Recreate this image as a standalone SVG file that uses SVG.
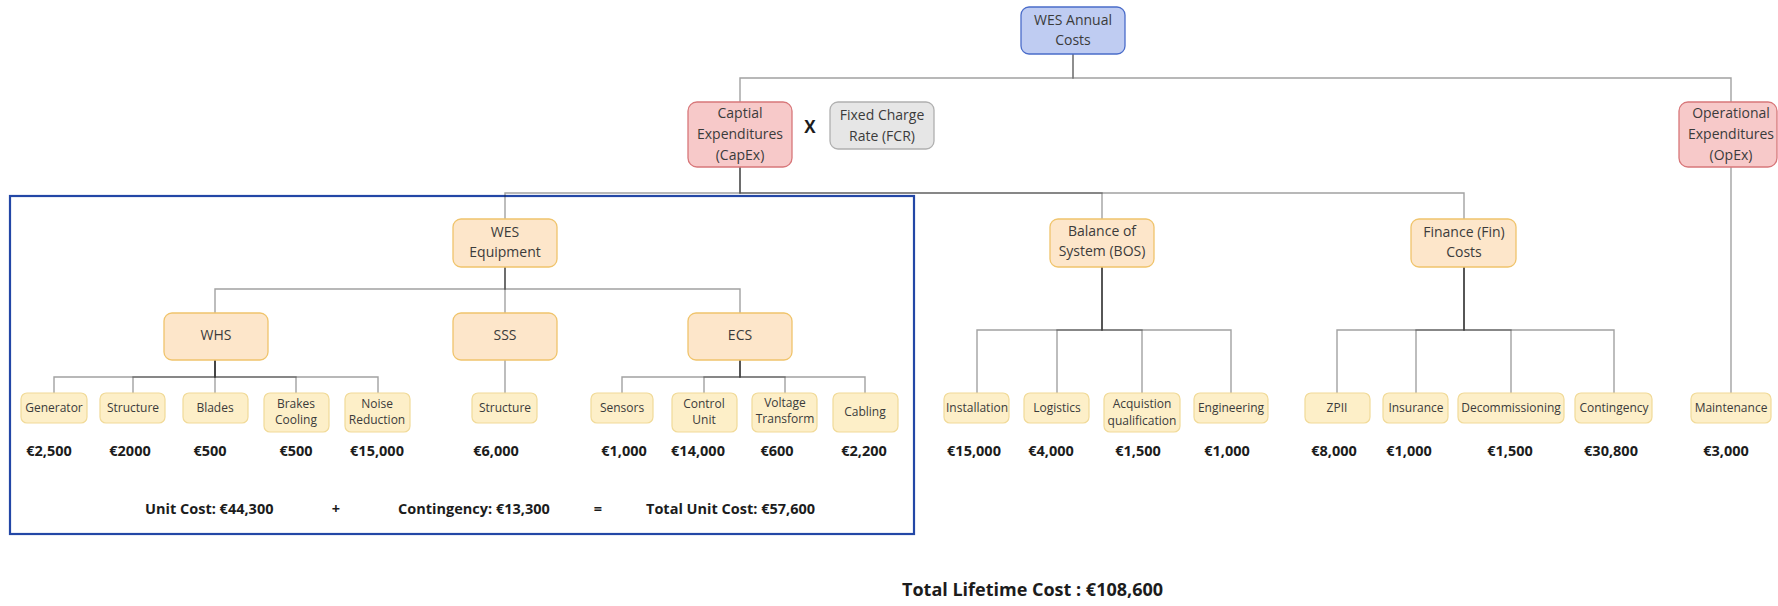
<svg xmlns="http://www.w3.org/2000/svg" width="1778" height="606" viewBox="0 0 1778 606">
  <style>
    text { font-family: "Open Sans", "Noto Sans", "Liberation Sans", sans-serif; }
    .lbl { font-size: 14px; fill: #3b3b3b; text-anchor: middle; }
    .leaf-lbl { font-size: 12px; fill: #3b3b3b; text-anchor: middle; }
    .val { font-size: 14.5px; font-weight: bold; fill: #1c1c1c; text-anchor: middle; }
    .sum { font-size: 14.5px; font-weight: bold; fill: #1c1c1c; }
    .edge { fill: none; stroke: #1f1f1f; stroke-opacity: 0.42; stroke-width: 1.4; }
    .root { fill: #bfccf2; stroke: #4a6cc9; stroke-width: 1.3; }
    .red { fill: #f7c9c9; stroke: #d8777a; stroke-width: 1.3; }
    .grey { fill: #e6e6e6; stroke: #b0b0b0; stroke-width: 1.3; }
    .peach { fill: #fde6ca; stroke: #f0c46c; stroke-width: 1.3; }
    .leaf { fill: #fdefc8; stroke: #f1da98; stroke-width: 1.2; }
  </style>

  <rect width="1778" height="606" fill="#ffffff"/>

  <!-- equipment scope frame -->
  <rect id="equipment-frame" x="10" y="196" width="904" height="338" fill="none" stroke="#2347a6" stroke-width="2.2"/>

  <!-- connectors: one elbow path per parent/child pair -->
  <g id="connectors">
    <path class="edge" d="M1073,54 V78 H740 V102"/>
    <path class="edge" d="M1073,54 V78 H1731 V102"/>

    <path class="edge" d="M740,167 V193 H505 V219"/>
    <path class="edge" d="M740,167 V193 H1102 V219"/>
    <path class="edge" d="M740,167 V193 H1464 V219"/>

    <path class="edge" d="M505,267 V289 H215 V313"/>
    <path class="edge" d="M505,267 V313"/>
    <path class="edge" d="M505,267 V289 H740 V313"/>

    <path class="edge" d="M215,360 V377 H54 V393"/>
    <path class="edge" d="M215,360 V377 H133 V393"/>
    <path class="edge" d="M215,360 V393"/>
    <path class="edge" d="M215,360 V377 H296 V393"/>
    <path class="edge" d="M215,360 V377 H378 V393"/>

    <path class="edge" d="M505,360 V393"/>

    <path class="edge" d="M740,360 V377 H622 V393"/>
    <path class="edge" d="M740,360 V377 H704 V393"/>
    <path class="edge" d="M740,360 V377 H785 V393"/>
    <path class="edge" d="M740,360 V377 H865 V393"/>

    <path class="edge" d="M1102,267 V330 H977 V393"/>
    <path class="edge" d="M1102,267 V330 H1057 V393"/>
    <path class="edge" d="M1102,267 V330 H1142 V393"/>
    <path class="edge" d="M1102,267 V330 H1231 V393"/>

    <path class="edge" d="M1464,267 V330 H1337 V393"/>
    <path class="edge" d="M1464,267 V330 H1416 V393"/>
    <path class="edge" d="M1464,267 V330 H1511 V393"/>
    <path class="edge" d="M1464,267 V330 H1614 V393"/>

    <path class="edge" d="M1731,167 V393"/>
  </g>

  <!-- top level -->
  <g id="wes-annual-costs">
    <rect class="root" x="1021" y="7" width="104" height="47" rx="8"/>
    <text class="lbl" x="1073" y="25">WES Annual</text>
    <text class="lbl" x="1073" y="45">Costs</text>
  </g>

  <g id="capex">
    <rect class="red" x="688" y="102" width="104" height="65" rx="9"/>
    <text class="lbl" x="740" y="118">Captial</text>
    <text class="lbl" x="740" y="139">Expenditures</text>
    <text class="lbl" x="740" y="160">(CapEx)</text>
  </g>

  <text id="times-sign" x="810" y="133" font-size="17" font-weight="bold" fill="#1c1c1c" text-anchor="middle">X</text>

  <g id="fcr">
    <rect class="grey" x="830" y="102" width="104" height="47" rx="8"/>
    <text class="lbl" x="882" y="120">Fixed Charge</text>
    <text class="lbl" x="882" y="141">Rate (FCR)</text>
  </g>

  <g id="opex">
    <rect class="red" x="1679" y="102" width="98" height="65" rx="9"/>
    <text class="lbl" x="1731" y="118">Operational</text>
    <text class="lbl" x="1731" y="139">Expenditures</text>
    <text class="lbl" x="1731" y="160">(OpEx)</text>
  </g>

  <!-- CapEx branches -->
  <g id="wes-equipment">
    <rect class="peach" x="453" y="219" width="104" height="48" rx="8"/>
    <text class="lbl" x="505" y="237">WES</text>
    <text class="lbl" x="505" y="257">Equipment</text>
  </g>

  <g id="bos">
    <rect class="peach" x="1050" y="219" width="104" height="48" rx="8"/>
    <text class="lbl" x="1102" y="236">Balance of</text>
    <text class="lbl" x="1102" y="256">System (BOS)</text>
  </g>

  <g id="finance">
    <rect class="peach" x="1411" y="219" width="105" height="48" rx="8"/>
    <text class="lbl" x="1464" y="237">Finance (Fin)</text>
    <text class="lbl" x="1464" y="257">Costs</text>
  </g>

  <!-- equipment subsystems -->
  <g id="whs">
    <rect class="peach" x="164" y="313" width="104" height="47" rx="8"/>
    <text class="lbl" x="216" y="340">WHS</text>
  </g>
  <g id="sss">
    <rect class="peach" x="453" y="313" width="104" height="47" rx="8"/>
    <text class="lbl" x="505" y="340">SSS</text>
  </g>
  <g id="ecs">
    <rect class="peach" x="688" y="313" width="104" height="47" rx="8"/>
    <text class="lbl" x="740" y="340">ECS</text>
  </g>

  <!-- WHS components -->
  <g id="generator">
    <rect class="leaf" x="21" y="393" width="66" height="30" rx="6"/>
    <text class="leaf-lbl" x="54" y="412">Generator</text>
  </g>
  <g id="whs-structure">
    <rect class="leaf" x="100" y="393" width="65" height="30" rx="6"/>
    <text class="leaf-lbl" x="133" y="412">Structure</text>
  </g>
  <g id="blades">
    <rect class="leaf" x="183" y="393" width="65" height="30" rx="6"/>
    <text class="leaf-lbl" x="215" y="412">Blades</text>
  </g>
  <g id="brakes-cooling">
    <rect class="leaf" x="264" y="393" width="65" height="39" rx="6"/>
    <text class="leaf-lbl" x="296" y="408">Brakes</text>
    <text class="leaf-lbl" x="296" y="424">Cooling</text>
  </g>
  <g id="noise-reduction">
    <rect class="leaf" x="345" y="393" width="65" height="39" rx="6"/>
    <text class="leaf-lbl" x="377" y="408">Noise</text>
    <text class="leaf-lbl" x="377" y="424">Reduction</text>
  </g>

  <!-- SSS component -->
  <g id="sss-structure">
    <rect class="leaf" x="472" y="393" width="65" height="30" rx="6"/>
    <text class="leaf-lbl" x="505" y="412">Structure</text>
  </g>

  <!-- ECS components -->
  <g id="sensors">
    <rect class="leaf" x="591" y="393" width="62" height="30" rx="6"/>
    <text class="leaf-lbl" x="622" y="412">Sensors</text>
  </g>
  <g id="control-unit">
    <rect class="leaf" x="672" y="393" width="65" height="39" rx="6"/>
    <text class="leaf-lbl" x="704" y="408">Control</text>
    <text class="leaf-lbl" x="704" y="424">Unit</text>
  </g>
  <g id="voltage-transform">
    <rect class="leaf" x="752" y="393" width="65" height="39" rx="6"/>
    <text class="leaf-lbl" x="785" y="407">Voltage</text>
    <text class="leaf-lbl" x="785" y="423">Transform</text>
  </g>
  <g id="cabling">
    <rect class="leaf" x="833" y="393" width="65" height="39" rx="6"/>
    <text class="leaf-lbl" x="865" y="416">Cabling</text>
  </g>

  <!-- BOS components -->
  <g id="installation">
    <rect class="leaf" x="944" y="393" width="65" height="30" rx="6"/>
    <text class="leaf-lbl" x="977" y="412">Installation</text>
  </g>
  <g id="logistics">
    <rect class="leaf" x="1024" y="393" width="65" height="30" rx="6"/>
    <text class="leaf-lbl" x="1057" y="412">Logistics</text>
  </g>
  <g id="acquisition">
    <rect class="leaf" x="1104" y="393" width="76" height="39" rx="6"/>
    <text class="leaf-lbl" x="1142" y="408">Acquistion</text>
    <text class="leaf-lbl" x="1142" y="425">qualification</text>
  </g>
  <g id="engineering">
    <rect class="leaf" x="1194" y="393" width="74" height="30" rx="6"/>
    <text class="leaf-lbl" x="1231" y="412">Engineering</text>
  </g>

  <!-- Finance components -->
  <g id="zpii">
    <rect class="leaf" x="1305" y="393" width="65" height="30" rx="6"/>
    <text class="leaf-lbl" x="1337" y="412">ZPII</text>
  </g>
  <g id="insurance">
    <rect class="leaf" x="1383" y="393" width="65" height="30" rx="6"/>
    <text class="leaf-lbl" x="1416" y="412">Insurance</text>
  </g>
  <g id="decommissioning">
    <rect class="leaf" x="1458" y="393" width="106" height="30" rx="6"/>
    <text class="leaf-lbl" x="1511" y="412">Decommissioning</text>
  </g>
  <g id="contingency">
    <rect class="leaf" x="1575" y="393" width="77" height="30" rx="6"/>
    <text class="leaf-lbl" x="1614" y="412">Contingency</text>
  </g>

  <!-- OpEx component -->
  <g id="maintenance">
    <rect class="leaf" x="1691" y="393" width="80" height="30" rx="6"/>
    <text class="leaf-lbl" x="1731" y="412">Maintenance</text>
  </g>

  <!-- cost figures -->
  <g id="costs">
    <text class="val" x="49" y="456">€2,500</text>
    <text class="val" x="130" y="456">€2000</text>
    <text class="val" x="210" y="456">€500</text>
    <text class="val" x="296" y="456">€500</text>
    <text class="val" x="377" y="456">€15,000</text>
    <text class="val" x="496" y="456">€6,000</text>
    <text class="val" x="624" y="456">€1,000</text>
    <text class="val" x="698" y="456">€14,000</text>
    <text class="val" x="777" y="456">€600</text>
    <text class="val" x="864" y="456">€2,200</text>
    <text class="val" x="974" y="456">€15,000</text>
    <text class="val" x="1051" y="456">€4,000</text>
    <text class="val" x="1138" y="456">€1,500</text>
    <text class="val" x="1227" y="456">€1,000</text>
    <text class="val" x="1334" y="456">€8,000</text>
    <text class="val" x="1409" y="456">€1,000</text>
    <text class="val" x="1510" y="456">€1,500</text>
    <text class="val" x="1611" y="456">€30,800</text>
    <text class="val" x="1726" y="456">€3,000</text>
  </g>

  <!-- equipment unit cost summary -->
  <g id="unit-summary">
    <text class="sum" x="145" y="514">Unit Cost: €44,300</text>
    <text class="sum" x="336" y="514" text-anchor="middle">+</text>
    <text class="sum" x="398" y="514">Contingency: €13,300</text>
    <text class="sum" x="598" y="514" text-anchor="middle">=</text>
    <text class="sum" x="646" y="514">Total Unit Cost: €57,600</text>
  </g>

  <text id="lifetime-total" x="902" y="596" font-size="18" font-weight="bold" fill="#1c1c1c">Total Lifetime Cost : €108,600</text>
</svg>
